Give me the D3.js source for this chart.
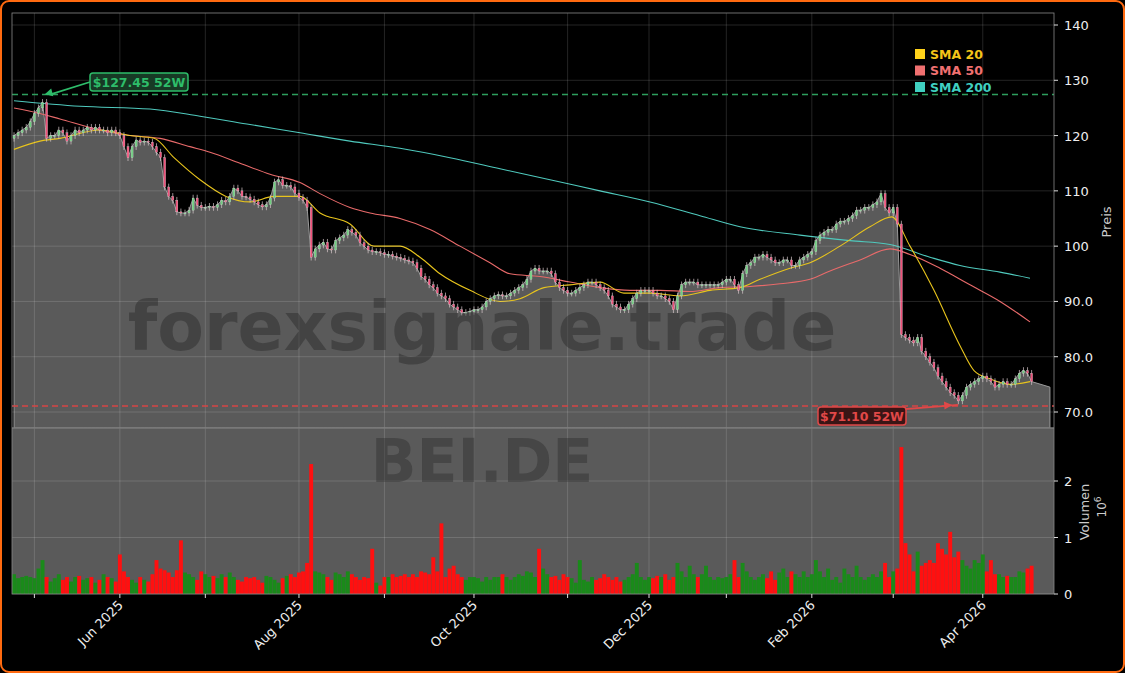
<!DOCTYPE html>
<html><head><meta charset="utf-8">
<script src="https://cdn.jsdelivr.net/npm/d3@7"></script>
<style>body{margin:0;background:#000;}svg{display:block;font-family:"DejaVu Sans",sans-serif;}</style>
</head><body><svg id="c" width="1125" height="673"></svg>
<script>
const startDate = "2025-04-24";
const holidays = ["2025-05-01","2025-12-24","2025-12-25","2025-12-26","2025-12-31","2026-01-01","2026-04-03","2026-04-06"];
const closes = [
120,120.5,121,121.5,122.5,124,125,126,119.5,120,
120,121,120.5,119,120,121,120.5,121,121.5,121,
121.5,121,121,120.5,121,120.5,120,118,116,118,
119.2,118.8,119,118.8,118,117,116,110.7,109,108.3,
106.2,106,106,106.5,108.7,107.4,107,107,107.2,107,
107.5,108.3,108,109,110.5,110,109,108.9,108.5,108,
107.5,107.1,107.5,108.7,111.6,112,111,111,110.7,
109.6,108.8,108.3,107,98,99.5,100.2,100.7,99.5,99.3,
101,101.5,102,103,102.5,102,100.6,100,99.3,99,
99,98.8,98.5,98.5,98.2,98,97.8,97.5,97.3,97,
96,94.5,94,93,92.5,91.5,91,90.5,89.5,89,
88.5,88,88,88.2,88.5,88.5,89,90,90.5,91,
91.2,91,91,91.5,92,92.5,93,94,95.5,
96,95.5,95.5,95.5,95,93.5,92.5,92,91.5,91.5,
92,92.5,93,93.5,93.5,93,92.5,92,91,89.5,
89,88.5,88.5,89.5,90.5,91.5,92,92,92,91.5,
91,91,90.5,90,88.5,91,93,93.5,93.5,93.5,
93,93,93,93,93,93,93.5,94,94,
93,92,95,96.5,97,98,98,98.5,98,97.5,
97,97,97.5,97.5,96.5,96.5,97.5,98,98.5,99,
101,102,102.5,103,103,104,104.5,104.5,105,105.5,
106.5,106.5,107,107,107.5,108,109.5,107,106,107,
104,84,83.5,83,82.5,83.5,81,80,79,78,
76.5,75.5,74.5,73.5,73,72,73,74.5,75,75.5,
76,76.5,76,75.5,74.5,75,75.5,75,75,
76,77,77.5,77,75.5];
const volumes = [
0.35,0.28,0.3,0.32,0.3,0.28,0.45,0.6,0.3,0.22,
0.28,0.35,0.25,0.3,0.22,0.3,0.32,0.25,0.28,0.3,
0.2,0.25,0.35,0.3,0.28,0.22,0.7,0.4,0.3,0.25,
0.2,0.3,0.25,0.22,0.35,0.6,0.45,0.42,0.38,0.3,
0.42,0.95,0.38,0.35,0.3,0.25,0.4,0.35,0.3,0.32,
0.28,0.35,0.3,0.38,0.3,0.25,0.22,0.3,0.28,0.3,
0.25,0.2,0.32,0.3,0.25,0.2,0.28,0.32,0.35,
0.3,0.38,0.4,0.55,2.3,0.4,0.38,0.35,0.3,0.25,
0.38,0.35,0.3,0.4,0.35,0.3,0.25,0.3,0.28,0.8,
0.2,0.15,0.3,0.3,0.35,0.3,0.32,0.35,0.3,0.35,
0.3,0.4,0.38,0.35,0.65,0.4,1.25,0.3,0.45,0.5,
0.35,0.3,0.25,0.3,0.3,0.28,0.22,0.3,0.25,0.3,
0.3,0.35,0.3,0.25,0.3,0.35,0.32,0.4,0.38,
0.3,0.8,0.45,0.35,0.3,0.32,0.25,0.35,0.3,0.28,
0.2,0.6,0.25,0.22,0.3,0.25,0.28,0.35,0.3,0.25,
0.3,0.22,0.25,0.3,0.35,0.55,0.3,0.25,0.3,0.28,
0.32,0.3,0.35,0.25,0.3,0.55,0.4,0.3,0.5,0.35,
0.3,0.35,0.5,0.3,0.25,0.3,0.28,0.3,0.35,
0.6,0.3,0.55,0.4,0.3,0.25,0.3,0.35,0.28,0.4,
0.25,0.38,0.45,0.3,0.4,0.35,0.3,0.4,0.3,0.35,
0.6,0.4,0.3,0.45,0.25,0.3,0.2,0.45,0.35,0.3,
0.5,0.3,0.25,0.3,0.35,0.3,0.4,0.55,0.3,0.4,
0.45,2.6,0.9,0.7,0.4,0.75,0.5,0.55,0.6,0.55,
0.9,0.8,0.7,1.1,0.65,0.75,0.6,0.5,0.45,0.6,
0.55,0.7,0.4,0.6,0.35,0.35,0.3,0.32,0.3,
0.3,0.4,0.38,0.45,0.5];
const priceTicks = [70,80,90,100,110,120,130,140];
const priceTickLabels = ["70.0","80.0","90.0","100","110","120","130","140"];
const volTicks = [0,1,2];
// SMA readings: [trading-day position, value]
const sma20 = [[0,117.5],[6.5,119],[11.5,119.5],[21.5,121],[29,120],[35,119.5],[40,116],[46.5,112],[53,109],[59,108],[65,109],[71.5,109],[76.5,106],[84,104],[90,100],[96.5,100],[101.5,98],[106.5,95],[114,92],[121.5,90],[126.5,90.5],[132.5,92.5],[139,93],[146.5,93.5],[152.5,91.5],[159,91.5],[166.5,91],[174,92],[181.5,92.5],[186.5,94],[194,96],[199,97],[206.5,100],[214,103.5],[219.4,105.3],[224,100],[230,92],[236.5,82],[240,77.5],[244,76],[249,75],[254,75.5]];
const sma50 = [[0,125],[6.5,124],[11.5,123],[21.5,121],[29,120],[36.5,119.5],[44,118],[49,117],[56.5,115],[64,113],[71.5,111.5],[76.5,109.5],[84,107],[89,106],[96.5,105],[104,103],[111.5,100],[119,97],[124,95],[131.5,94.5],[139,93.5],[146.5,92.5],[154,92],[161.5,92],[169,91.8],[176.5,92.5],[184,92.7],[191.5,93.2],[199,94],[204,95.5],[211.5,97.5],[219,99.5],[224,98.5],[231.5,96],[239,93],[246.5,90],[254,86.3]];
const sma200 = [[0,126.3],[16.5,125.3],[34,124.8],[46.5,123.5],[59,122],[71.5,120.5],[84,119],[96.5,117.7],[109,116],[121.5,114],[134,112],[146.5,110],[159,108],[171.5,105.5],[181.5,103.5],[196.5,102],[209,101],[219,100.3],[229,98],[236.5,96.5],[246.5,95.3],[254,94.2]];
const high52 = 127.45, low52 = 71.10;

const fmt = d3.timeFormat("%Y-%m-%d");
const dates = [];
let d = d3.timeParse("%Y-%m-%d")(startDate);
while (dates.length < closes.length + 8) {
  const wd = d.getDay();
  if (wd !== 0 && wd !== 6 && !holidays.includes(fmt(d))) dates.push(new Date(d));
  d = d3.timeDay.offset(d, 1);
}
const svg = d3.select("#c");
const L = 12, R = 1054, T = 13, MID = 428, B = 594;
const x = d3.scaleLinear().domain([-0.5, 255.5]).range([L, R]);
// SMA readings were taken on a 4px grid starting at x=14
const xs = p => 14 + 4 * p;
const y = d3.scaleLinear().domain([70, 140]).range([412, 25]);
const yv = d3.scaleLinear().domain([0, 2]).range([B, 481]);
const step = x(1) - x(0);

svg.append("rect").attr("x",1).attr("y",1).attr("width",1123).attr("height",671).attr("rx",8).attr("fill","#000").attr("stroke","#ff6a10").attr("stroke-width",2);
svg.append("rect").attr("x",L).attr("y",MID).attr("width",R-L).attr("height",B-MID).attr("fill","#5a5a5a");

const defs = svg.append("defs");
defs.append("clipPath").attr("id","cp").append("rect").attr("x",L).attr("y",T).attr("width",R-L).attr("height",MID-T);

const areaPts = closes.map((c,i)=>[i,c]);
areaPts.push([254.5, 74.5]);
const gP = svg.append("g").attr("clip-path","url(#cp)");
gP.append("path").datum(areaPts)
  .attr("d", d3.area().x(p=>x(p[0])).y0(MID).y1(p=>y(p[1])))
  .attr("fill","#5a5a5a").attr("stroke","#9a9a9a").attr("stroke-width",1);

const monthIdx = [];
dates.forEach((dt,i)=>{ if(i>0 && dt.getMonth()!==dates[i-1].getMonth()) monthIdx.push(i); });
const grid = svg.append("g").attr("stroke","rgba(255,255,255,0.18)").attr("stroke-width",0.8);
monthIdx.forEach(i=>{ if (x(i)<R) grid.append("line").attr("x1",x(i)).attr("x2",x(i)).attr("y1",T).attr("y2",B); });
priceTicks.forEach(v=>{ grid.append("line").attr("x1",L).attr("x2",R).attr("y1",y(v)).attr("y2",y(v)); });
volTicks.forEach(v=>{ grid.append("line").attr("x1",L).attr("x2",R).attr("y1",yv(v)).attr("y2",yv(v)); });

svg.append("text").attr("x",482).attr("y",350).attr("text-anchor","middle").attr("font-size",68).attr("font-weight","bold").attr("fill","rgba(40,40,40,0.45)").text("forexsignale.trade");
svg.append("text").attr("x",482).attr("y",482).attr("text-anchor","middle").attr("font-size",60).attr("font-weight","bold").attr("fill","rgba(40,40,40,0.4)").text("BEI.DE");

svg.append("line").attr("x1",L).attr("x2",R).attr("y1",y(high52)).attr("y2",y(high52)).attr("stroke","#2e9e5e").attr("stroke-width",1.5).attr("stroke-dasharray","6,4");
svg.append("line").attr("x1",L).attr("x2",R).attr("y1",y(low52)).attr("y2",y(low52)).attr("stroke","#d64545").attr("stroke-width",1.5).attr("stroke-dasharray","6,4");

const ln = d3.line().x(p=>xs(p[0])).y(p=>y(p[1])).curve(d3.curveMonotoneX);
[[sma200,"#4fc9bd"],[sma50,"#e86a6a"],[sma20,"#e8c41c"]].forEach(([s,c])=>{
  gP.append("path").datum(s).attr("d",ln).attr("fill","none").attr("stroke",c).attr("stroke-width",1.1);
});

closes.forEach((c,i)=>{
  const o = i===0 ? c-0.5 : closes[i-1];
  const up = c >= o;
  const top = Math.max(o,c), bot = Math.min(o,c);
  const hi = top + 0.6, lo = bot - 0.6;
  gP.append("line").attr("x1",x(i)).attr("x2",x(i)).attr("y1",y(hi)).attr("y2",y(lo)).attr("stroke","#d8c8cc").attr("stroke-width",0.7);
  gP.append("rect").attr("x",x(i)-step*0.25).attr("width",step*0.5)
    .attr("y",y(top)).attr("height",Math.max(1,y(bot)-y(top)))
    .attr("fill", up ? "#6fcf7f" : "#f0507a").attr("stroke","#ddd").attr("stroke-width",0.3);
});

closes.forEach((c,i)=>{
  const o = i===0 ? c-0.5 : closes[i-1];
  svg.append("rect").attr("x",x(i)-step*0.48).attr("width",step*0.96)
    .attr("y",yv(volumes[i])).attr("height",B-yv(volumes[i]))
    .attr("fill", c>=o ? "#1a8a1a" : "#ff1010");
});

svg.append("line").attr("x1",L).attr("x2",R).attr("y1",MID).attr("y2",MID).attr("stroke","#7a7a7a").attr("stroke-width",1.5);
svg.append("rect").attr("x",L).attr("y",T).attr("width",R-L).attr("height",B-T).attr("fill","none").attr("stroke","#888").attr("stroke-width",0.8);

const ax = svg.append("g").attr("fill","#eee").attr("font-size",13);
priceTicks.forEach((v,k)=>{
  ax.append("line").attr("x1",R).attr("x2",R+4).attr("y1",y(v)).attr("y2",y(v)).attr("stroke","#ddd");
  ax.append("text").attr("x",R+10).attr("y",y(v)+5).text(priceTickLabels[k]);
});
volTicks.forEach(v=>{
  ax.append("line").attr("x1",R).attr("x2",R+4).attr("y1",yv(v)).attr("y2",yv(v)).attr("stroke","#ddd");
  ax.append("text").attr("x",R+10).attr("y",yv(v)+5).text(String(v));
});
svg.append("text").attr("transform","translate(1111,222) rotate(-90)").attr("text-anchor","middle").attr("fill","#ccc").attr("font-size",13).text("Preis");
svg.append("text").attr("transform","translate(1089,512) rotate(-90)").attr("text-anchor","middle").attr("fill","#ccc").attr("font-size",13).text("Volumen");
const t6 = svg.append("text").attr("transform","translate(1106,507) rotate(-90)").attr("text-anchor","middle").attr("fill","#ccc").attr("font-size",12);
t6.append("tspan").text("10");
t6.append("tspan").attr("dy",-5).attr("font-size",9).text("6");

const mfmt = d3.timeFormat("%b %Y");
monthIdx.forEach(i=>{
  if (x(i) >= R) return;
  svg.append("line").attr("x1",x(i)).attr("x2",x(i)).attr("y1",B).attr("y2",B+4).attr("stroke","#ddd");
  const m = dates[i].getMonth();
  if (m % 2 === 1) {
    svg.append("text").attr("transform",`translate(${x(i)+4},${B+12}) rotate(-45)`).attr("text-anchor","end").attr("fill","#eee").attr("font-size",13).text(mfmt(dates[i]));
  }
});

const leg = [["SMA 20","#ffd21a","#f5c518"],["SMA 50","#f07070","#f07070"],["SMA 200","#40d0c0","#40d0c0"]];
leg.forEach((l,k)=>{
  const yy = 54 + k*16.5;
  svg.append("rect").attr("x",915).attr("y",yy-5).attr("width",10).attr("height",10).attr("fill",l[1]);
  svg.append("text").attr("x",930).attr("y",yy+4.5).attr("fill",l[2]).attr("font-size",12.5).attr("font-weight","bold").text(l[0]);
});

function ann(bx,by,bw,label,col,fill,tx,ty){
  svg.append("line").attr("x1",bx).attr("y1",by+9).attr("x2",tx+6).attr("y2",ty).attr("stroke",col).attr("stroke-width",1.8);
  const dx = tx - bx, dy = ty-(by+9), len=Math.hypot(dx,dy), ux=dx/len, uy=dy/len;
  svg.append("path").attr("d",`M${tx},${ty} L${tx-ux*8-uy*4},${ty-uy*8+ux*4} L${tx-ux*8+uy*4},${ty-uy*8-ux*4}Z`).attr("fill",col);
  svg.append("rect").attr("x",bx).attr("y",by).attr("width",bw).attr("height",18).attr("rx",3).attr("fill",fill).attr("stroke",col).attr("stroke-width",1.5);
  svg.append("text").attr("x",bx+bw/2).attr("y",by+13.5).attr("text-anchor","middle").attr("fill",col).attr("font-size",12.5).attr("font-weight","bold").text(label);
}
ann(90,73,98,"$127.45 52W","#2ebd6a","#173a25",x(7)+2,y(high52));
ann(818,407,88,"$71.10 52W","#e04848","#3a1515",x(230)+2,y(low52)-1);
</script></body></html>
